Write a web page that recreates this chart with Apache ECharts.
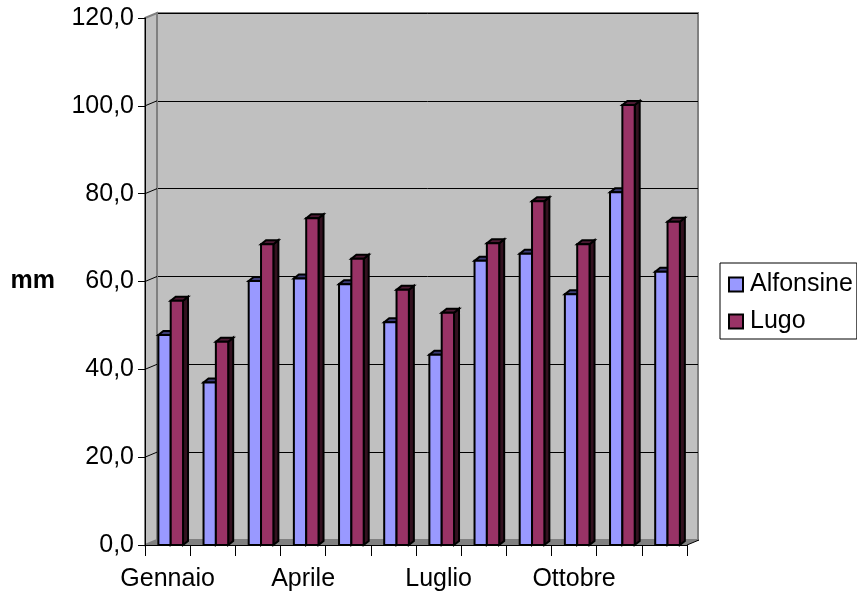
<!DOCTYPE html>
<html>
<head>
<meta charset="utf-8">
<script src="https://cdn.jsdelivr.net/npm/echarts@6/dist/echarts.min.js"></script>
<style>
  html, body { margin: 0; padding: 0; background: #ffffff; }
  #chart { width: 857px; height: 594px; }
</style>
</head>
<body>
<div id="chart"></div>
<script>
// Monthly rainfall (mm) for two stations
const months = ['Gennaio', 'Febbraio', 'Marzo', 'Aprile', 'Maggio', 'Giugno',
                'Luglio', 'Agosto', 'Settembre', 'Ottobre', 'Novembre', 'Dicembre'];
const alfonsine = [47.8, 37.0, 60.1, 60.7, 59.4, 50.7, 43.3, 64.7, 66.3, 57.1, 80.3, 62.2];
const lugo      = [55.6, 46.3, 68.5, 74.4, 65.2, 58.1, 52.9, 68.7, 78.3, 68.5, 100.2, 73.6];
const yTicks = [0, 20, 40, 60, 80, 100, 120];

// Pseudo-3D geometry: the back wall sits up and to the right of the front plane
const DEPTH_X = 12, DEPTH_Y = -5;
const BAR_DX = 5, BAR_DY = -4;
const FONT = '"Liberation Sans", Arial, sans-serif';
const FONT_SIZE = 25;

const FRONT = { left: 145, top: 18, width: 542, height: 527 };
const BACK = { left: FRONT.left + DEPTH_X, top: FRONT.top + DEPTH_Y, width: FRONT.width - 1, height: FRONT.height };

// each bar's position within its category band
const SLOTS = [
  { offset: 0.296, width: 0.273, front: '#9999ff', top: '#3d3d77', side: '#2a2a55' },
  { offset: 0.569, width: 0.273, front: '#993366', top: '#4d1a33', side: '#33111f' }
];

function barRenderer(slot) {
  const s = SLOTS[slot];
  return function (params, api) {
    const i = api.value(0);
    const v = api.value(1);
    const tp = api.coord([i, v]);
    const bp = api.coord([i, 0]);
    const band = api.size([1, 0])[0];
    const x0 = tp[0] - band / 2 + band * s.offset;
    const x1 = x0 + band * s.width;
    const yt = tp[1], yb = bp[1];
    const stroke = { stroke: '#000', lineWidth: 2, lineJoin: 'miter' };
    return {
      type: 'group',
      children: [
        {
          type: 'polygon',
          shape: { points: [[x1, yt], [x1 + BAR_DX, yt + BAR_DY], [x1 + BAR_DX, yb + BAR_DY], [x1, yb]] },
          style: Object.assign({ fill: s.side }, stroke)
        },
        {
          type: 'polygon',
          shape: { points: [[x0, yt], [x0 + BAR_DX, yt + BAR_DY], [x1 + BAR_DX, yt + BAR_DY], [x1, yt]] },
          style: Object.assign({ fill: s.top }, stroke)
        },
        {
          type: 'rect',
          shape: { x: x0, y: yt, width: x1 - x0, height: yb - yt },
          style: Object.assign({ fill: s.front }, stroke)
        }
      ]
    };
  };
}

// left side wall, its tick lines and the floor
function wallRenderer(params, api) {
  const cs = params.coordSys;
  const xl = cs.x, xr = cs.x + cs.width;
  const yt = cs.y, yb = cs.y + cs.height;
  const children = [
    {
      type: 'polygon',
      shape: { points: [[xl, yt], [xl + DEPTH_X, yt + DEPTH_Y], [xl + DEPTH_X, yb + DEPTH_Y], [xl, yb]] },
      style: { fill: '#c0c0c0', stroke: '#808080', lineWidth: 2 }
    }
  ];
  yTicks.forEach(function (t) {
    if (t === 0 || t === yTicks[yTicks.length - 1]) return;
    const y = api.coord([0, t])[1];
    children.push({
      type: 'line',
      shape: { x1: xl, y1: y, x2: xl + DEPTH_X, y2: y + DEPTH_Y },
      style: { stroke: '#000', lineWidth: 1 }
    });
  });
  children.push({
    type: 'polygon',
    shape: { points: [[xl, yb], [xl + DEPTH_X, yb + DEPTH_Y], [xr + DEPTH_X, yb + DEPTH_Y], [xr, yb]] },
    style: { fill: '#808080', stroke: null }
  });
  children.push({
    type: 'line',
    shape: { x1: xr, y1: yb, x2: xr + DEPTH_X, y2: yb + DEPTH_Y },
    style: { stroke: '#000', lineWidth: 1 }
  });
  return { type: 'group', children: children };
}

const chart = echarts.init(document.getElementById('chart'), null, { renderer: 'canvas' });

chart.setOption({
  backgroundColor: '#ffffff',
  animation: false,
  textStyle: { fontFamily: FONT },
  grid: [
    Object.assign({ show: false }, FRONT),
    Object.assign({ show: true, backgroundColor: '#c0c0c0', borderColor: '#808080', borderWidth: 2 }, BACK)
  ],
  legend: {
    orient: 'vertical',
    left: 720,
    top: 263,
    padding: [9, 4, 5, 8],
    itemGap: 12,
    itemWidth: 14,
    itemHeight: 14,
    icon: 'rect',
    borderColor: '#000',
    borderWidth: 1,
    textStyle: { fontFamily: FONT, fontSize: FONT_SIZE, color: '#000', padding: [0, 0, 0, 2] },
    data: [
      { name: 'Alfonsine', itemStyle: { color: SLOTS[0].front, borderColor: '#000', borderWidth: 2 } },
      { name: 'Lugo', itemStyle: { color: SLOTS[1].front, borderColor: '#000', borderWidth: 2 } }
    ]
  },
  xAxis: [
    {
      type: 'category',
      gridIndex: 0,
      data: months,
      boundaryGap: true,
      z: 5,
      axisLine: { show: true, lineStyle: { color: '#000', width: 1 } },
      axisTick: { show: true, interval: 0, length: 11, lineStyle: { color: '#000' } },
      axisLabel: { interval: 2, margin: 22, fontSize: FONT_SIZE, color: '#000', fontFamily: FONT },
      splitLine: { show: false }
    },
    {
      type: 'category',
      gridIndex: 1,
      data: months,
      show: false
    }
  ],
  yAxis: [
    {
      type: 'value',
      gridIndex: 0,
      min: 0,
      max: 120,
      interval: 20,
      z: 5,
      name: 'mm',
      nameLocation: 'middle',
      nameRotate: 0,
      nameGap: 90,
      nameTextStyle: { fontFamily: FONT, fontSize: FONT_SIZE, fontWeight: 'bold', color: '#000', align: 'right' },
      axisLine: { show: true, lineStyle: { color: '#000', width: 1 } },
      axisTick: { show: true, length: 7, lineStyle: { color: '#000' } },
      axisLabel: {
        margin: 11,
        fontSize: FONT_SIZE,
        color: '#000',
        fontFamily: FONT,
        formatter: function (v) { return v.toFixed(1).replace('.', ','); }
      },
      splitLine: { show: false }
    },
    {
      type: 'value',
      gridIndex: 1,
      min: 0,
      max: 120,
      interval: 20,
      axisLine: { show: false },
      axisTick: { show: false },
      axisLabel: { show: false },
      splitLine: { show: true, lineStyle: { color: '#000', width: 1 } }
    }
  ],
  series: [
    {
      type: 'custom',
      name: 'walls',
      xAxisIndex: 0,
      yAxisIndex: 0,
      z: 1,
      silent: true,
      renderItem: wallRenderer,
      data: [[0, 0]]
    },
    {
      type: 'custom',
      name: 'Alfonsine',
      xAxisIndex: 0,
      yAxisIndex: 0,
      z: 3,
      itemStyle: { color: SLOTS[0].front },
      renderItem: barRenderer(0),
      data: alfonsine.map(function (v, i) { return [i, v]; })
    },
    {
      type: 'custom',
      name: 'Lugo',
      xAxisIndex: 0,
      yAxisIndex: 0,
      z: 4,
      itemStyle: { color: SLOTS[1].front },
      renderItem: barRenderer(1),
      data: lugo.map(function (v, i) { return [i, v]; })
    }
  ]
});
</script>
</body>
</html>
